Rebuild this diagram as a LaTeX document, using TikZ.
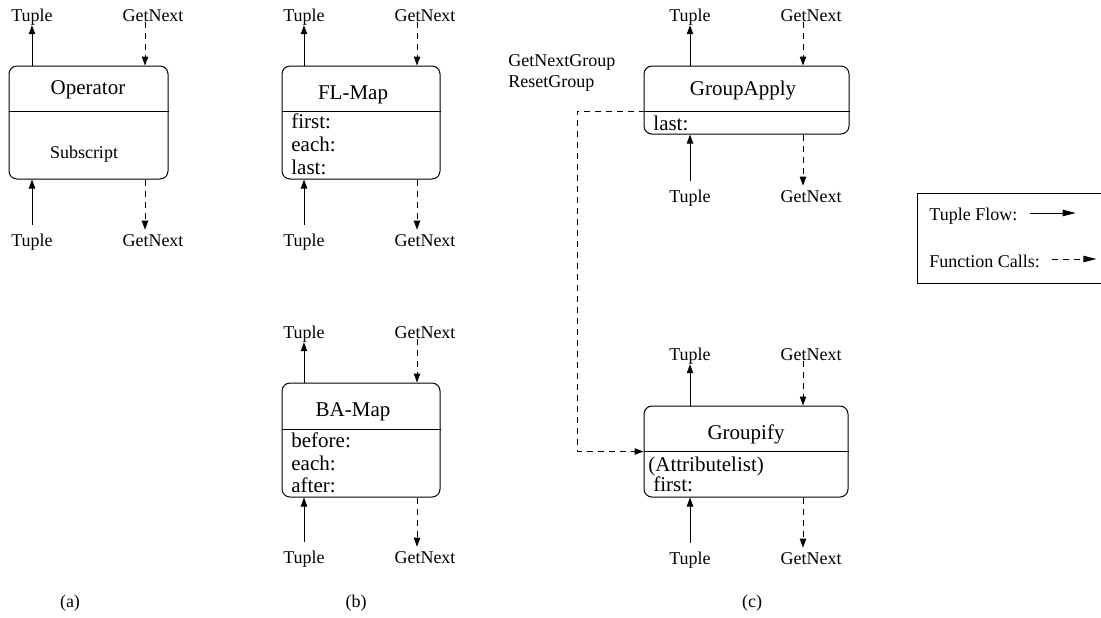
\documentclass[tikz,border=0pt]{standalone}
\usepackage{fontspec}
\setmainfont{Liberation Serif}
\usetikzlibrary{arrows.meta, positioning, fit}

\begin{document}
\begin{tikzpicture}[
    x=0.5pt, y=-0.5pt,
    font=\fontsize{9}{10.5}\selectfont,
    opbox/.style={draw, rounded corners=4pt, line width=0.5pt, inner sep=0pt},
    keybox/.style={draw, line width=0.5pt, inner sep=0pt},
    optitle/.style={font=\fontsize{10.5}{12}\selectfont, anchor=base},
    entry/.style={font=\fontsize{10.5}{12}\selectfont, anchor=base west, inner sep=0pt},
    port/.style={inner sep=0pt, anchor=base},
    divider/.style={line width=0.5pt},
    tupleflow/.style={-{Triangle[length=4.5pt, width=3.2pt]}, line width=0.5pt},
    callflow/.style={tupleflow, dash pattern=on 3pt off 2.5pt},
    keyflow/.style={-{Triangle[length=6.5pt, width=3.2pt]}, line width=0.5pt},
    keycall/.style={keyflow, dash pattern=on 3pt off 2.5pt}
]
    \useasboundingbox (0,0) rectangle (1101,617);

    % (a) generic operator
    \node[opbox, fit={(9,66) (168,179)}] (operator) {};
    \draw[divider] (operator.west |- 0,111) -- (operator.east |- 0,111);
    \node[optitle] (operatorname) at (88,94) {Operator};
    \node[anchor=base] (operatorsub) at (84,158) {Subscript};
    \node[port] (aTupleOut) at (32,21) {Tuple};
    \node[port] (aNextIn) at (153,21) {GetNext};
    \node[port] (aTupleIn) at (32,246) {Tuple};
    \node[port] (aNextOut) at (153,246) {GetNext};
    \draw[tupleflow] (operator.north -| aTupleOut) -- (aTupleOut.south);
    \draw[callflow] ([xshift=-4pt]aNextIn.south) -- ([xshift=-4pt]aNextIn.south |- operator.north);
    \draw[tupleflow] ([yshift=4pt]aTupleIn.north) -- (aTupleIn.north |- operator.south);
    \draw[callflow] ([xshift=-4pt]aNextOut.north |- operator.south) -- ([xshift=-4pt,yshift=2pt]aNextOut.north);
    \node (capa) at (70,603) {(a)};

    % (b) FL-Map
    \node[opbox, fit={(282,66) (440,179)}] (flmap) {};
    \draw[divider] (flmap.west |- 0,111) -- (flmap.east |- 0,111);
    \node[optitle] (flmapname) at (353,99) {FL-Map};
    \node[entry] (flfirst) at (291,128) {first:};
    \node[entry] (fleach) at (291,151) {each:};
    \node[entry] (fllast) at (291,174) {last:};
    \node[port] (flTupleOut) at (304,21) {Tuple};
    \node[port] (flNextIn) at (425,21) {GetNext};
    \node[port] (flTupleIn) at (304,246) {Tuple};
    \node[port] (flNextOut) at (425,246) {GetNext};
    \draw[tupleflow] (flmap.north -| flTupleOut) -- (flTupleOut.south);
    \draw[callflow] ([xshift=-4pt]flNextIn.south) -- ([xshift=-4pt]flNextIn.south |- flmap.north);
    \draw[tupleflow] ([yshift=4pt]flTupleIn.north) -- (flTupleIn.north |- flmap.south);
    \draw[callflow] ([xshift=-4pt]flNextOut.north |- flmap.south) -- ([xshift=-4pt,yshift=2pt]flNextOut.north);

    % (b) BA-Map
    \node[opbox, fit={(282,383) (440,497)}] (bamap) {};
    \draw[divider] (bamap.west |- 0,429) -- (bamap.east |- 0,429);
    \node[optitle] (bamapname) at (353,416) {BA-Map};
    \node[entry] (babefore) at (291,447) {before:};
    \node[entry] (baeach) at (291,470) {each:};
    \node[entry] (baafter) at (291,492) {after:};
    \node[port] (baTupleOut) at (304,338) {Tuple};
    \node[port] (baNextIn) at (425,338) {GetNext};
    \node[port] (baTupleIn) at (304,563) {Tuple};
    \node[port] (baNextOut) at (425,563) {GetNext};
    \draw[tupleflow] (bamap.north -| baTupleOut) -- (baTupleOut.south);
    \draw[callflow] ([xshift=-4pt]baNextIn.south) -- ([xshift=-4pt]baNextIn.south |- bamap.north);
    \draw[tupleflow] ([yshift=4pt]baTupleIn.north) -- (baTupleIn.north |- bamap.south);
    \draw[callflow] ([xshift=-4pt]baNextOut.north |- bamap.south) -- ([xshift=-4pt,yshift=2pt]baNextOut.north);
    \node (capb) at (356,603) {(b)};

    % (c) GroupApply
    \node[opbox, fit={(644,66) (849,134)}] (groupapply) {};
    \draw[divider] (groupapply.west |- 0,111) -- (groupapply.east |- 0,111);
    \node[optitle] (groupapplyname) at (743,95) {GroupApply};
    \node[entry] (galast) at (653,130) {last:};
    \node[port] (gaTupleOut) at (690,21) {Tuple};
    \node[port] (gaNextIn) at (811,21) {GetNext};
    \node[port] (gaTupleIn) at (690,202) {Tuple};
    \node[port] (gaNextOut) at (811,202) {GetNext};
    \draw[tupleflow] (groupapply.north -| gaTupleOut) -- (gaTupleOut.south);
    \draw[callflow] ([xshift=-4pt]gaNextIn.south) -- ([xshift=-4pt]gaNextIn.south |- groupapply.north);
    \draw[tupleflow] ([yshift=4pt]gaTupleIn.north) -- (gaTupleIn.north |- groupapply.south);
    \draw[callflow] ([xshift=-4pt]gaNextOut.north |- groupapply.south) -- ([xshift=-4pt,yshift=2pt]gaNextOut.north);
    \node[anchor=west, align=left, inner sep=0pt] (groupcalls) at (508,72.5) {GetNextGroup\\ResetGroup};

    % (c) Groupify
    \node[opbox, fit={(644,406) (848,497)}] (groupify) {};
    \draw[divider] (groupify.west) -- (groupify.east);
    \node[optitle] (groupifyname) at (746,439) {Groupify};
    \node[entry] (gfattrs) at (648,471) {(Attributelist)};
    \node[entry] (gffirst) at (653,491) {first:};
    \node[port] (gfTupleOut) at (690,360) {Tuple};
    \node[port] (gfNextIn) at (811,360) {GetNext};
    \node[port] (gfTupleIn) at (690,564) {Tuple};
    \node[port] (gfNextOut) at (811,564) {GetNext};
    \draw[tupleflow] (groupify.north -| gfTupleOut) -- (gfTupleOut.south);
    \draw[callflow] ([xshift=-4pt]gfNextIn.south) -- ([xshift=-4pt]gfNextIn.south |- groupify.north);
    \draw[tupleflow] ([yshift=4pt]gfTupleIn.north) -- (gfTupleIn.north |- groupify.south);
    \draw[callflow] ([xshift=-4pt]gfNextOut.north |- groupify.south) -- ([xshift=-4pt,yshift=2pt]gfNextOut.north);
    \node (capc) at (752,603) {(c)};

    % group calls from GroupApply down into Groupify
    \coordinate (groupcall) at (667,111);
    \draw[callflow] (groupcall) -- ++(-90,0) |- (groupify.west);

    % legend
    \node[keybox, fit={(917,193) (1110,283)}] (legend) {};
    \node[anchor=west, inner sep=0pt] (flowkey) at (929,216) {Tuple Flow:};
    \node[anchor=west, inner sep=0pt] (callkey) at (929,261) {Function Calls:};
    \draw[keyflow] ([xshift=6pt,yshift=1.5pt]flowkey.east) -- ++(46,0);
    \draw[keycall] ([xshift=6pt,yshift=1pt]callkey.east) -- ++(44,0);

\end{tikzpicture}
\end{document}
